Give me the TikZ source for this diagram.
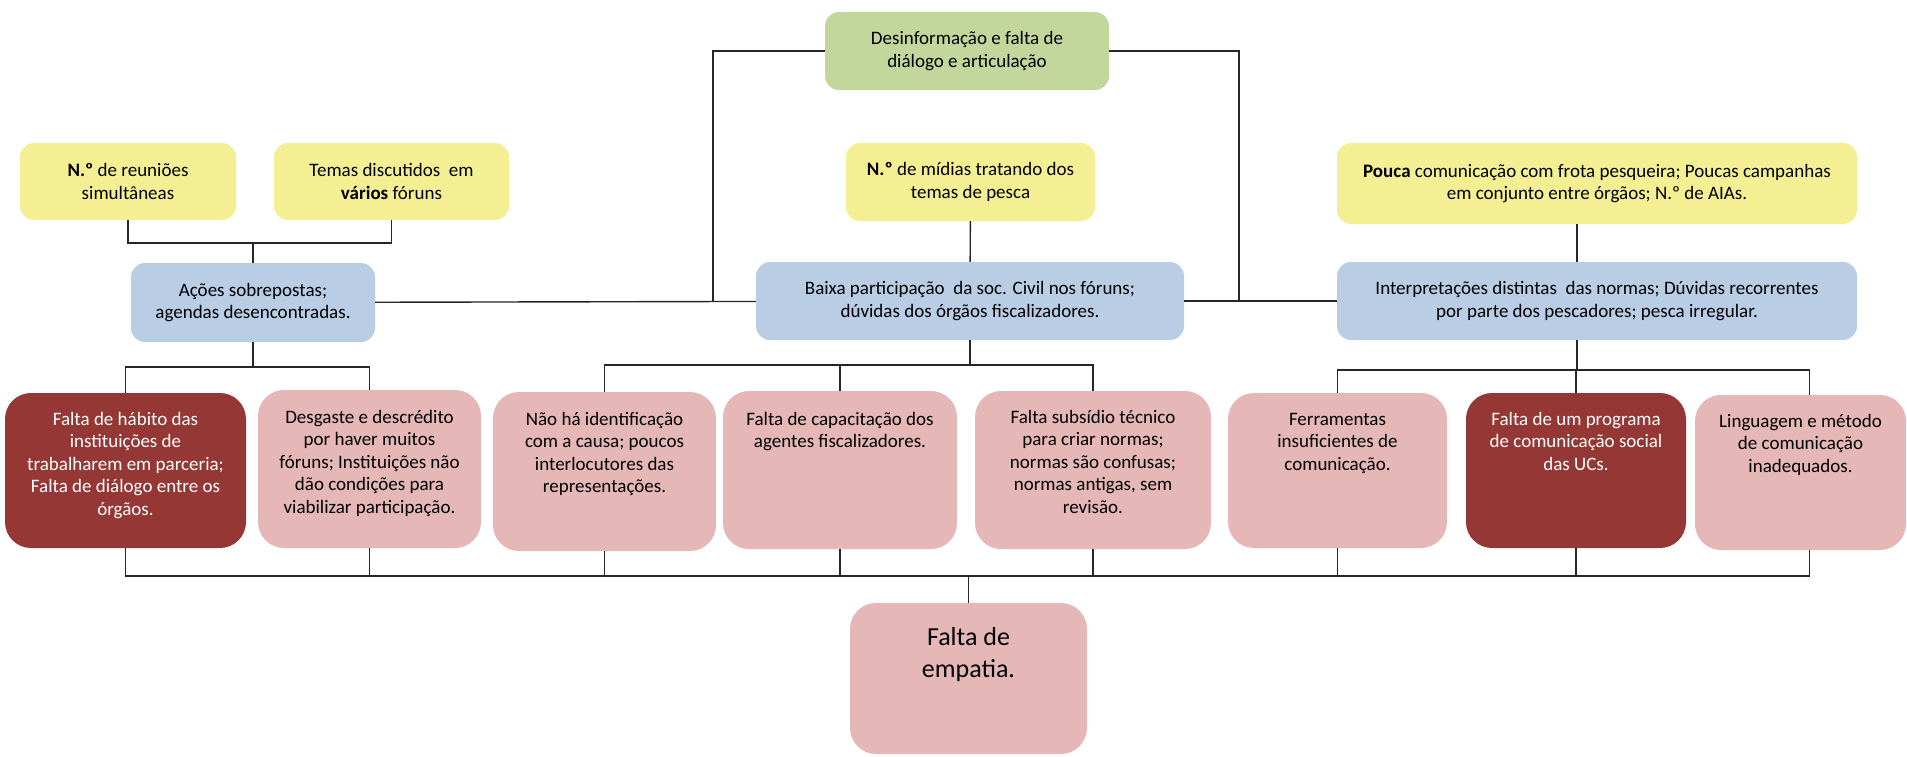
\documentclass[tikz,border=0pt]{standalone}
\usepackage{fontspec}
\setmainfont{Carlito}

\definecolor{greenfill}{RGB}{195,214,155}
\definecolor{yellowfill}{RGB}{245,239,147}
\definecolor{bluefill}{RGB}{185,205,228}
\definecolor{pinkfill}{RGB}{229,184,183}
\definecolor{redfill}{RGB}{149,55,53}

\newcommand{\normsize}{\fontsize{19}{22.5}\selectfont}
\newcommand{\bigsize}{\fontsize{26}{32}\selectfont}
% text block pinned to the top of a box: width, height, first baseline, text
\newcommand{\toptext}[4]{\parbox[c][#2][t]{#1}{\centering\rule{0pt}{#3}#4}}

\tikzset{
  cell/.style={rectangle, rounded corners=14pt, inner sep=0pt, align=center, font=\normsize},
  greenbox/.style={cell, fill=greenfill},
  yellowbox/.style={cell, fill=yellowfill},
  bluebox/.style={cell, fill=bluefill},
  pinkbox/.style={cell, rounded corners=26pt, fill=pinkfill},
  redbox/.style={cell, rounded corners=26pt, fill=redfill, text=white},
  link/.style={draw=black!85, line width=1.4pt}
}

\begin{document}
\begin{tikzpicture}[x=1pt,y=1pt,yscale=-1]
    \useasboundingbox (0,0) rectangle (1907,756);
    % top
    \node[greenbox, minimum width=284pt, minimum height=78pt] (desinf) at (967,51) {Desinformação e falta de\\diálogo e articulação};
    % indicators
    \node[yellowbox, minimum width=216pt, minimum height=77pt] (reunioes) at (128,181.5) {\textbf{N.º} de reuniões\\simultâneas};
    \node[yellowbox, minimum width=235pt, minimum height=77pt] (temas) at (391.5,181.5) {Temas discutidos\ \ em\\\textbf{vários} fóruns};
    \node[yellowbox, minimum width=249pt, minimum height=78pt] (midias) at (970.5,182) {\textbf{N.º} de mídias tratando dos\\temas de pesca};
    \node[yellowbox, minimum width=520pt, minimum height=81pt] (pouca) at (1597,183.5) {\textbf{Pouca} comunicação com frota pesqueira; Poucas campanhas\\em conjunto entre órgãos; N.º de AIAs.};
    % effects
    \node[bluebox, minimum width=244pt, minimum height=79pt] (acoes) at (253,302.5) {Ações sobrepostas;\\agendas desencontradas.};
    \node[bluebox, minimum width=428pt, minimum height=78pt] (baixa) at (970,301) {Baixa participação\ \ da soc. Civil nos fóruns;\\dúvidas dos órgãos fiscalizadores.};
    \node[bluebox, minimum width=520pt, minimum height=78pt] (interp) at (1597,301) {Interpretações distintas\ \ das normas; Dúvidas recorrentes\\por parte dos pescadores; pesca irregular.};
    % causes
    \node[redbox] (habito) at (125.5,470.5) {\toptext{241pt}{155pt}{32pt}{Falta de hábito das\\instituições de\\trabalharem em parceria;\\Falta de diálogo entre os\\órgãos.}};
    \node[pinkbox] (desgaste) at (369.5,469) {\toptext{223pt}{158pt}{33pt}{Desgaste e descrédito\\por haver muitos\\fóruns; Instituições não\\dão condições para\\viabilizar participação.}};
    \node[pinkbox] (naoha) at (604.5,471.5) {\toptext{223pt}{159pt}{33pt}{Não há identificação\\com a causa; poucos\\interlocutores das\\representações.}};
    \node[pinkbox] (capacit) at (840,470) {\toptext{234pt}{158pt}{34pt}{Falta de capacitação dos\\agentes fiscalizadores.}};
    \node[pinkbox] (subsidio) at (1093,470) {\toptext{236pt}{158pt}{32pt}{Falta subsídio técnico\\para criar normas;\\normas são confusas;\\normas antigas, sem\\revisão.}};
    \node[pinkbox] (ferram) at (1337.5,470.5) {\toptext{219pt}{155pt}{32pt}{Ferramentas\\insuficientes de\\comunicação.}};
    \node[redbox] (programa) at (1576,470.5) {\toptext{220pt}{155pt}{32pt}{Falta de um programa\\de comunicação social\\das UCs.}};
    \node[pinkbox] (linguagem) at (1800.5,472.5) {\toptext{211pt}{155pt}{32pt}{Linguagem e método\\de comunicação\\inadequados.}};
    % problem
    \node[pinkbox, font=\bigsize] (empatia) at (968.5,678.5) {\toptext{237pt}{151pt}{42pt}{Falta de\\empatia.}};

    \coordinate (gleft) at (713,302);
    \coordinate (gright) at (1239,302);
    \coordinate (jtop) at (253,243);
    \coordinate (jleft) at (253,367);
    \coordinate (jmid) at (970,365);
    \coordinate (jright) at (1577,370);
    \coordinate (jbot) at (968.5,576);

    \draw[link] (desinf.west) -| (gleft);
    \draw[link] (desinf.east) -| (gright);
    \draw[link] (reunioes.south) |- (jtop) -| (temas.south);
    \draw[link] (jtop) -- (acoes.north);
    \draw[link] (midias) -- (baixa);
    \draw[link] ([xshift=-20pt]pouca.south) -- ([xshift=-20pt]interp.north);
    \draw[link] (acoes) -- (baixa);
    \draw[link] (baixa) -- (interp);

    \draw[link] (acoes.south) -- (jleft);
    \draw[link] (habito.north) |- (jleft) -| (desgaste.north);
    \draw[link] (baixa.south) -- (jmid);
    \draw[link] (naoha.north) |- (jmid) -| (subsidio.north);
    \draw[link] (capacit.north) -- (capacit.north |- jmid);
    \draw[link] ([xshift=-20pt]interp.south) -- (jright);
    \draw[link] (ferram.north) |- (jright) -| ([xshift=9pt]linguagem.north);
    \draw[link] (programa.north) -- (programa.north |- jright);

    \draw[link] (habito.south) |- (jbot) -| ([xshift=9pt]linguagem.south);
    \draw[link] (desgaste.south) -- (desgaste.south |- jbot);
    \draw[link] (naoha.south) -- (naoha.south |- jbot);
    \draw[link] (capacit.south) -- (capacit.south |- jbot);
    \draw[link] (subsidio.south) -- (subsidio.south |- jbot);
    \draw[link] (ferram.south) -- (ferram.south |- jbot);
    \draw[link] (programa.south) -- (programa.south |- jbot);
    \draw[link] (jbot) -- (empatia.north);
\end{tikzpicture}
\end{document}
